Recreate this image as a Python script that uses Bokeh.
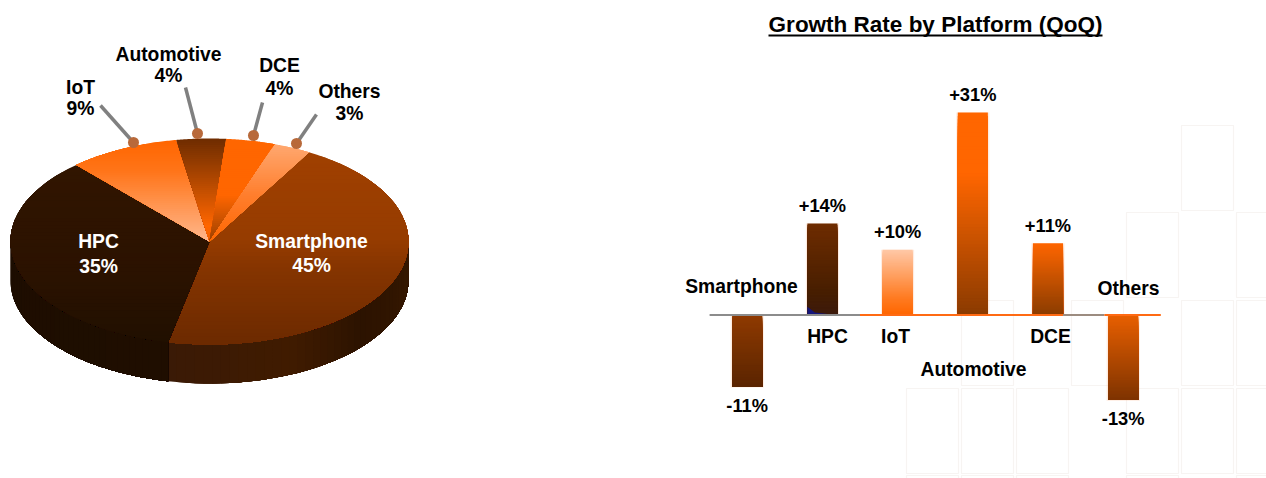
from bokeh.core.properties import value
from bokeh.embed import file_html
from bokeh.layouts import row
from bokeh.models import Range1d
from bokeh.plotting import figure
from bokeh.resources import INLINE
import math

# Revenue share, clockwise from the Smartphone slice
pie_names = ["Smartphone", "HPC", "IoT", "Automotive", "DCE", "Others"]
pie_shares = [45, 35, 9, 4, 4, 3]

# Quarter-on-quarter growth by platform
bar_names = ["Smartphone", "HPC", "IoT", "Automotive", "DCE", "Others"]
bar_growth = [-11, 14, 10, 31, 11, -13]

FONT = value("Liberation Sans")
ORANGE = "#ff6600"


def rgb(h):
    return tuple(int(h[i:i + 2], 16) for i in (1, 3, 5))


def ramp(stops, f):
    """Colour at fraction f along a list of (fraction, hex) stops."""
    f = min(max(f, 0), 1)
    for (a, ca), (b, cb) in zip(stops, stops[1:]):
        if f <= b:
            t = (f - a) / (b - a) if b > a else 0
            c = [round(u + (v - u) * t) for u, v in zip(rgb(ca), rgb(cb))]
            return "#%02x%02x%02x" % tuple(c)
    return stops[-1][1]


# ---------- pie ----------
CX, CY, RX, RY, DEPTH = 209, 241, 199, 103, 39
START_DEG = 60

pie = figure(width=640, height=478, output_backend="svg", toolbar_location=None,
             x_range=Range1d(0, 640), y_range=Range1d(478, 0), min_border=0,
             outline_line_color=None, background_fill_color=None, border_fill_color=None)
pie.axis.visible = False
pie.grid.visible = False

slice_ramps = {
    "Smartphone": [(0, "#a04000"), (.45, "#963c00"), (.62, "#843400"), (1, "#6c2a00")],
    "HPC": [(0, "#311500"), (.6, "#2b1200"), (1, "#211000")],
    "IoT": [(0, ORANGE), (.3, "#ff7418"), (1, "#ffb78c")],
    "Automotive": [(0, "#6e2c00"), (.35, "#a84400"), (.85, ORANGE), (1, "#f06000")],
    "DCE": [(0, ORANGE), (.55, ORANGE), (1, "#9c4000")],
    "Others": [(0, "#ffa870"), (.5, "#ff8030"), (1, ORANGE)],
}


def ell(deg, drop=0):
    t = math.radians(deg)
    return CX + RX * math.cos(t), CY - RY * math.sin(t) + drop


def clip_below(poly, y):
    """Keep the part of a polygon that lies below a horizontal line."""
    out = []
    for (x0, y0), (x1, y1) in zip(poly, poly[1:] + poly[:1]):
        in0, in1 = y0 >= y, y1 >= y
        if in0:
            out.append((x0, y0))
        if in0 != in1:
            s = (y - y0) / (y1 - y0)
            out.append((x0 + (x1 - x0) * s, y))
    return out


# slice limits, walking clockwise
angles = [START_DEG]
for s in pie_shares:
    angles.append(angles[-1] - s * 3.6)

# outer wall of the disc, front half only; each strip runs to the end of
# its section and the next one paints over it, which leaves no seams
wall_stops = {
    "Smartphone": [(0, "#3a1a06"), (.35, "#401b00"), (.6, "#2c1300"), (1, "#371800")],
    "HPC": [(0, "#1d0d00"), (1, "#1f0e00")],
}
for name, a0, a1 in [("Smartphone", angles[1], 0), ("HPC", -180, angles[1])]:
    n = 40
    arc = [a0 + (a1 - a0) * i / n for i in range(n + 1)]
    xs, ys, cs = [], [], []
    for i in range(n):
        rest = arc[i:]
        p = [ell(u) for u in rest] + [ell(u, DEPTH) for u in reversed(rest)]
        xs.append([q[0] for q in p])
        ys.append([q[1] for q in p])
        cs.append(ramp(wall_stops[name], (i + .5) / n))
    pie.patches(xs, ys, fill_color=cs, line_color=None)

# top face: each slice is overpainted downwards to build its vertical gradient
for name, a0, a1 in zip(pie_names, angles, angles[1:]):
    arc = [ell(a0 + (a1 - a0) * i / 60) for i in range(61)]
    poly = [(CX, CY)] + arc
    top = min(q[1] for q in poly)
    bottom = max(q[1] for q in poly)
    n = 50
    xs, ys, cs = [], [], []
    for i in range(n):
        band = clip_below(poly, top + (bottom - top) * i / n)
        if len(band) < 3:
            continue
        xs.append([q[0] for q in band])
        ys.append([q[1] for q in band])
        cs.append(ramp(slice_ramps[name], (i + .5) / n))
    pie.patches(xs, ys, fill_color=cs, line_color=None)

# leader lines for the small slices
lead_from_x = [100, 185, 262, 316]
lead_from_y = [105, 87, 102, 114]
lead_to_x = [133, 197, 253, 296]
lead_to_y = [142, 133, 135, 143]
pie.segment(lead_from_x, lead_from_y, lead_to_x, lead_to_y, line_color="#808080", line_width=3.5)
pie.scatter(lead_to_x, lead_to_y, size=11, fill_color="#b8693a", line_color=None)

pie_label_x = [311, 98, 80, 168, 279, 349]
pie_name_y = [241, 241, 87, 54, 65, 91]
pie_share_y = [265, 266, 108, 75, 88, 113]
pie_colors = ["#ffffff", "#ffffff", "#000000", "#000000", "#000000", "#000000"]
for ys, labels in [(pie_name_y, pie_names), (pie_share_y, [f"{s}%" for s in pie_shares])]:
    pie.text(pie_label_x, ys, text=labels, text_color=pie_colors, text_font=FONT,
             text_font_style="bold", text_font_size="19.3px", text_align="center",
             text_baseline="middle")

# ---------- bars ----------
BASE_PX, PX_PER_PCT = 314.5, 6.53
X0_PX, STEP_PX = 746.7, 75.2
LEFT_PX = 640


def bx(px):
    return (px - X0_PX) / STEP_PX


def by(px):
    return (BASE_PX - px) / PX_PER_PCT


bars = figure(width=626, height=478, output_backend="svg", toolbar_location=None,
              x_range=Range1d(bx(LEFT_PX), bx(1266)), y_range=Range1d(by(478), by(0)),
              min_border=0, outline_line_color=None,
              background_fill_color=None, border_fill_color=None)
bars.axis.visible = False
bars.grid.visible = False

# pale tiles behind the right-hand side of the plot
tile_cols = [906, 961, 1016, 1071, 1126, 1181, 1236]
tile_rows = [125, 212, 300, 388, 475]
tile_cells = [(5, 0), (4, 1), (6, 1), (1, 2), (3, 2), (5, 2), (6, 2),
              (0, 3), (1, 3), (2, 3), (4, 3), (5, 3), (6, 3),
              (0, 4), (1, 4), (2, 4), (4, 4), (6, 4)]
bars.quad(left=[bx(tile_cols[c]) for c, r in tile_cells],
          right=[bx(tile_cols[c] + 52) for c, r in tile_cells],
          top=[by(tile_rows[r]) for c, r in tile_cells],
          bottom=[by(tile_rows[r] + 85) for c, r in tile_cells],
          fill_color=None, line_color="#f7f4f2", line_width=1.2)

bar_ramps = [
    [(0, "#8f3a00"), (1, "#5a2400")],
    [(0, "#6e2c00"), (.75, "#471e00"), (1, "#3c1a0c")],
    [(0, "#ffc8a6"), (.75, "#ff7a20"), (1, ORANGE)],
    [(0, ORANGE), (.3, ORANGE), (1, "#8a3a00")],
    [(0, ORANGE), (1, "#8a3c00")],
    [(0, "#e85f00"), (1, "#7e3300")],
]
WIDTH = 0.4
for i, (v, stops) in enumerate(zip(bar_growth, bar_ramps)):
    hi, lo = max(v, 0), min(v, 0)
    # soft edge around the bar
    bars.quad(left=[i - WIDTH / 2 - .02], right=[i + WIDTH / 2 + .02],
              top=[hi], bottom=[lo - .12],
              fill_color="#ff9050", fill_alpha=.18, line_color=None)
    # gradient: each layer reaches the foot of the bar and the next covers it
    n = 60
    tops = [hi - abs(v) * k / n for k in range(n)]
    cs = [ramp(stops, (k + .5) / n) for k in range(n)]
    bars.quad(left=[i - WIDTH / 2] * n, right=[i + WIDTH / 2] * n, top=tops, bottom=[lo] * n,
              fill_color=cs, line_color=None)

# dark blue sliver at the foot of the HPC bar
hpc = bar_names.index("HPC")
bars.patch([hpc - WIDTH / 2, hpc - WIDTH / 2, hpc - .1, hpc + .18], [0, 1.25, .4, 0],
           fill_color="#15157a", line_color=None)

# zero line: grey and orange stretches
line_stops = [-0.5, 1.5, 4.2, 4.75, 5.5]
line_cols = ["#8c8c8c", "#ff6a13", "#9c8c80", "#ff6a13"]
bars.segment(line_stops[:-1], [0] * 4, line_stops[1:], [0] * 4, line_color=line_cols, line_width=2)

value_labels = [f"{v:+d}%" for v in bar_growth]
bars.text(list(range(6)), bar_growth, text=value_labels, text_font=FONT, text_font_style="bold",
          text_font_size="18.3px", text_align="center", text_baseline="middle", text_color="#000000",
          y_offset=[19 if v < 0 else -18 for v in bar_growth])

cat_x = [741, 827, 895, 973, 1050, 1128]
cat_y = [286, 336, 336, 369, 336, 288]
bars.text([bx(x) for x in cat_x], [by(y) for y in cat_y], text=bar_names, text_font=FONT,
          text_font_style="bold", text_font_size="19.3px", text_align="center",
          text_baseline="middle", text_color="#000000")

bars.text([bx(935)], [by(23.5)], text=["Growth Rate by Platform (QoQ)"], text_font=FONT,
          text_font_style="bold", text_font_size="22.5px", text_align="center",
          text_baseline="middle", text_color="#000000")
bars.segment([bx(768)], [by(35)], [bx(1102)], [by(35)], line_color="#000000", line_width=2)

layout = row(pie, bars, spacing=0)
open("out.html", "w").write(file_html(layout, INLINE))
